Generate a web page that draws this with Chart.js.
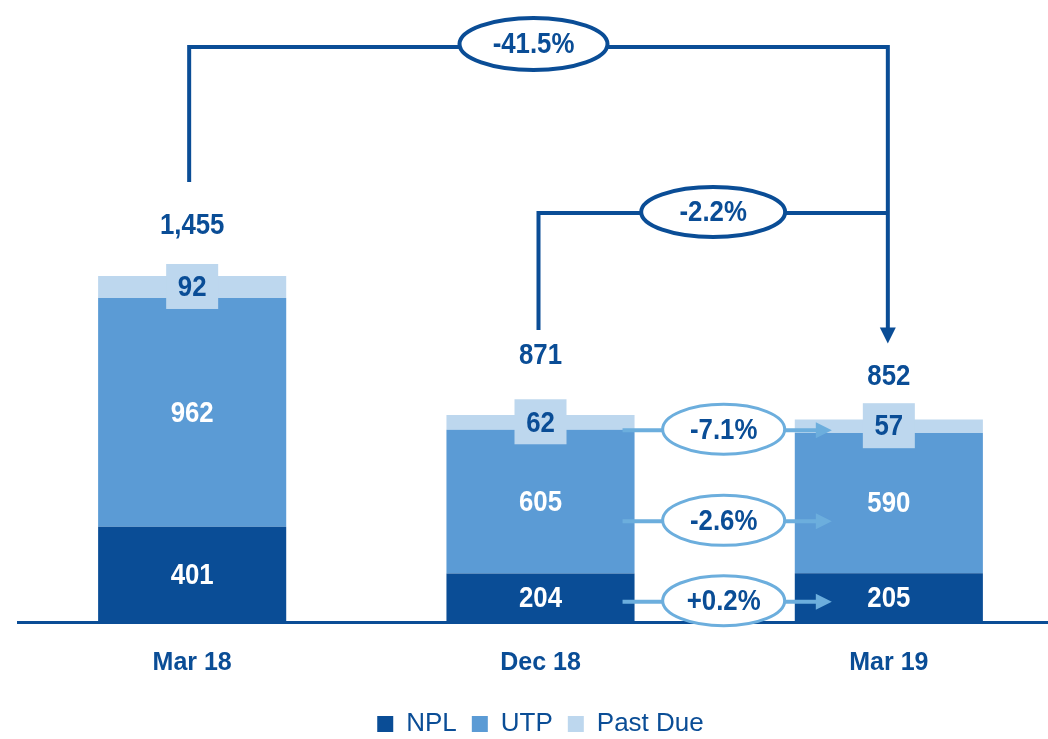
<!DOCTYPE html>
<html>
<head>
<meta charset="utf-8">
<script src="https://cdn.jsdelivr.net/npm/chart.js@4.4.0/dist/chart.umd.min.js"></script>
<style>
  html, body { margin: 0; padding: 0; background: #fff; overflow: hidden; }
  canvas { display: block; }
</style>
</head>
<body>
<canvas id="npeChart" width="1064" height="739"></canvas>
<script>
// data
const categories = ['Mar 18', 'Dec 18', 'Mar 19'];
const npl = [401, 204, 205];
const utp = [962, 605, 590];
const pastDue = [92, 62, 57];
const totals = [1455, 871, 852];
// Dec 18 -> Mar 19 change per series (NPL, UTP, Past Due)
const seriesChange = ['+0.2%', '-2.6%', '-7.1%'];
const quarterChange = '-2.2%';
const yearChange = '-41.5%';

const DARK = '#0A4D96';
const MID = '#5B9BD5';
const LIGHT = '#BDD7EE';
const ARROW = '#6CAEDD';
const FONT = '"Liberation Sans", Arial, sans-serif';

function fmt(v) {
    return v.toLocaleString('en-US');
}

// no narrow font installed, so squeeze the text horizontally
function narrowText(ctx, text, x, y) {
    ctx.save();
    ctx.translate(x, y);
    ctx.scale(0.86, 1);
    ctx.fillText(text, 0, 0);
    ctx.restore();
}

function ellipseLabel(ctx, cx, cy, w, h, stroke, lw, text) {
    ctx.beginPath();
    ctx.ellipse(cx, cy, w / 2, h / 2, 0, 0, Math.PI * 2);
    ctx.fillStyle = '#fff';
    ctx.fill();
    ctx.lineWidth = lw;
    ctx.strokeStyle = stroke;
    ctx.stroke();
    ctx.fillStyle = DARK;
    ctx.font = 'bold 30px ' + FONT;
    ctx.textAlign = 'center';
    ctx.textBaseline = 'middle';
    narrowText(ctx, text, cx, cy + 1);
}

function arrowHead(ctx, x, y, dir, len, half, color) {
    ctx.beginPath();
    ctx.fillStyle = color;
    if (dir === 'right') {
        ctx.moveTo(x, y);
        ctx.lineTo(x - len, y - half);
        ctx.lineTo(x - len, y + half);
    } else {
        ctx.moveTo(x, y);
        ctx.lineTo(x - half, y - len);
        ctx.lineTo(x + half, y - len);
    }
    ctx.closePath();
    ctx.fill();
}

const overlay = {
    id: 'overlay',
    afterDatasetsDraw(chart) {
        const ctx = chart.ctx;
        const y = chart.scales.y;
        const metas = [0, 1, 2].map(i => chart.getDatasetMeta(i).data);
        ctx.save();

        // segment labels
        ctx.textAlign = 'center';
        ctx.textBaseline = 'middle';
        ctx.font = 'bold 30px ' + FONT;
        metas.forEach((bars, d) => {
            bars.forEach((bar, i) => {
                const cy = (bar.y + bar.base) / 2;
                const v = chart.data.datasets[d].data[i];
                if (d === 2) {
                    ctx.fillStyle = LIGHT;
                    ctx.fillRect(bar.x - 26, cy - 23, 52, 45);
                    ctx.fillStyle = DARK;
                } else {
                    ctx.fillStyle = '#fff';
                }
                narrowText(ctx, fmt(v), bar.x, cy + 1);
            });
        });

        // totals
        const totalGap = [50, 59, 43];
        totals.forEach((t, i) => {
            const top = y.getPixelForValue(t);
            ctx.fillStyle = DARK;
            narrowText(ctx, fmt(t), metas[0][i].x, top - totalGap[i]);
        });

        // Dec 18 -> Mar 19 arrows per series
        const from = metas[0][1], to = metas[0][2];
        const x0 = from.x + from.width / 2 - 12;
        const x1 = to.x - to.width / 2 + 37;
        const mid = (from.x + from.width / 2 + to.x - to.width / 2) / 2 + 9;
        const arrowShift = [4, 19, 6];
        [0, 1, 2].forEach(d => {
            const a = metas[d][1], b = metas[d][2];
            const ay = ((a.y + a.base) / 2 + (b.y + b.base) / 2) / 2 + arrowShift[d];
            ctx.strokeStyle = ARROW;
            ctx.lineWidth = 4;
            ctx.beginPath();
            ctx.moveTo(x0, ay);
            ctx.lineTo(x1 - 12, ay);
            ctx.stroke();
            arrowHead(ctx, x1, ay, 'right', 16, 8, ARROW);
            ellipseLabel(ctx, mid, ay - 1, 122, 50, ARROW, 3, seriesChange[d]);
        });

        // brackets
        const top = chart.chartArea.top;
        const yBig = top + 47;
        const ySmall = top + 213;
        const xA = metas[0][0].x - 3;
        const xB = metas[0][1].x - 2;
        const xC = metas[0][2].x - 1;
        ctx.strokeStyle = DARK;
        ctx.lineWidth = 4;
        ctx.beginPath();
        ctx.moveTo(xA, y.getPixelForValue(totals[0]) - 94);
        ctx.lineTo(xA, yBig);
        ctx.lineTo(xC, yBig);
        ctx.lineTo(xC, y.getPixelForValue(totals[2]) - 90);
        ctx.moveTo(xB, y.getPixelForValue(totals[1]) - 85);
        ctx.lineTo(xB, ySmall);
        ctx.lineTo(xC, ySmall);
        ctx.stroke();
        arrowHead(ctx, xC, y.getPixelForValue(totals[2]) - 76, 'down', 16, 8, DARK);
        ellipseLabel(ctx, (xA + xC) / 2 - 5, yBig - 3, 148, 52, DARK, 4, yearChange);
        ellipseLabel(ctx, (xB + xC) / 2, ySmall - 1, 144, 50, DARK, 4, quarterChange);

        ctx.restore();
    }
};

const ctx = document.getElementById('npeChart').getContext('2d');
new Chart(ctx, {
    type: 'bar',
    data: {
        labels: categories,
        datasets: [
            { label: 'NPL', data: npl, backgroundColor: DARK },
            { label: 'UTP', data: utp, backgroundColor: MID },
            { label: 'Past Due', data: pastDue, backgroundColor: LIGHT }
        ]
    },
    options: {
        responsive: false,
        animation: false,
        layout: { padding: { left: 18, right: 1, top: 0, bottom: -8 } },
        datasets: {
            bar: { categoryPercentage: 0.54, barPercentage: 1 }
        },
        scales: {
            x: {
                stacked: true,
                grid: { display: false },
                border: { color: DARK, width: 3 },
                ticks: {
                    color: DARK,
                    padding: 18,
                    font: { family: FONT, size: 25, weight: 'bold' }
                }
            },
            y: {
                stacked: true,
                display: false,
                min: 0,
                max: 2616
            }
        },
        plugins: {
            legend: {
                position: 'bottom',
                labels: {
                    color: DARK,
                    boxWidth: 16,
                    boxHeight: 16,
                    padding: 15,
                    font: { family: FONT, size: 26 }
                }
            },
            tooltip: { enabled: false }
        }
    },
    plugins: [overlay]
});
</script>
</body>
</html>
